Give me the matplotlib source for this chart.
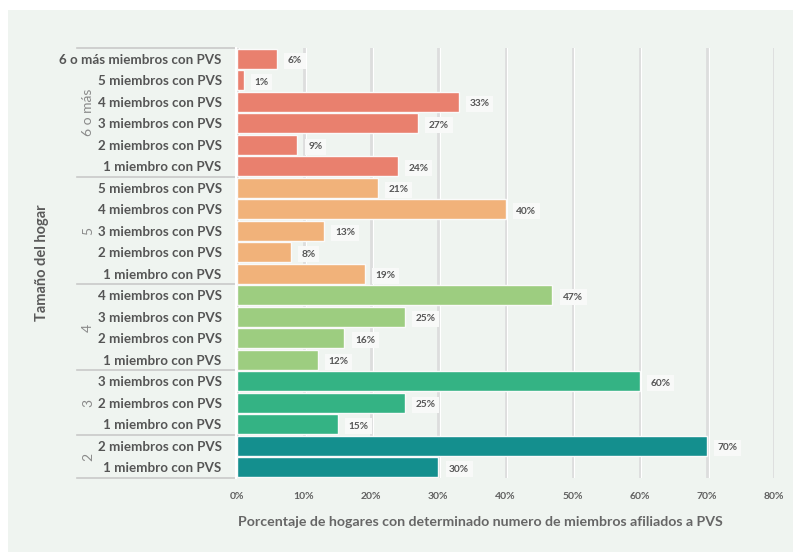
import matplotlib
matplotlib.use("Agg")
import matplotlib.pyplot as plt
from matplotlib.patches import Rectangle
import matplotlib.transforms as mtransforms

plt.rcParams['font.family'] = ['Lato', 'DejaVu Sans']

groups = ["6 o más", "5", "4", "3", "2"]
group_rows = [
    ["6 o más miembros con PVS", "5 miembros con PVS", "4 miembros con PVS",
     "3 miembros con PVS", "2 miembros con PVS", "1 miembro con PVS"],
    ["5 miembros con PVS", "4 miembros con PVS", "3 miembros con PVS",
     "2 miembros con PVS", "1 miembro con PVS"],
    ["4 miembros con PVS", "3 miembros con PVS", "2 miembros con PVS",
     "1 miembro con PVS"],
    ["3 miembros con PVS", "2 miembros con PVS", "1 miembro con PVS"],
    ["2 miembros con PVS", "1 miembro con PVS"],
]
group_values = [
    [6, 1, 33, 27, 9, 24],
    [21, 40, 13, 8, 19],
    [47, 25, 16, 12],
    [60, 25, 15],
    [70, 30],
]
group_colors = ["#e9806e", "#f1b27a", "#9dcd80", "#34b384", "#148f8e"]
xticks = [0, 10, 20, 30, 40, 50, 60, 70, 80]
xticklabels = ["0%", "10%", "20%", "30%", "40%", "50%", "60%", "70%", "80%"]

W, H = 793, 552
fig = plt.figure(figsize=(W / 100, H / 100), dpi=100, facecolor="white")
fig.patches.append(Rectangle((8 / W, 0), 1, 1 - 10 / H, transform=fig.transFigure,
                             facecolor="#eff4f0", edgecolor="none", zorder=-10))

left, right, top, bottom = 237, 774, 48, 478
ax = fig.add_axes([left / W, 1 - bottom / H, (right - left) / W, (bottom - top) / H])
ax.patch.set_alpha(0)

labels, values, colors = [], [], []
bounds = [0]
for g, rows, vals, c in zip(groups, group_rows, group_values, group_colors):
    labels += rows
    values += vals
    colors += [c] * len(vals)
    bounds.append(bounds[-1] + len(vals))

n = len(values)
ypos = list(range(n))
ax.barh(ypos, values, height=0.94, color=colors, edgecolor="#fafafa", linewidth=1.0, zorder=3)

for y, v in zip(ypos, values):
    ax.text(v + 1.6, y + 0.1, f"{v}%", ha="left", va="center", fontsize=7.3,
            fontweight="bold", color="#555555", zorder=4,
            bbox=dict(boxstyle="square,pad=0.35", facecolor="#f8f9f8", edgecolor="none"))

ax.set_xlim(0, 80)
ax.set_ylim(n - 0.5, -0.5)
for x in xticks:
    ax.axvline(x, color="#dddddd", linewidth=2.0, zorder=1)
    ax.axvline(x + 0.25, color="#ffffff", linewidth=0.8, zorder=1)

ax.set_xticks(xticks)
ax.set_xticklabels(xticklabels, fontsize=7.5, fontweight="bold", color="#606060")
ax.tick_params(axis="x", length=0, pad=10)
ax.set_yticks(ypos)
ax.set_yticklabels(labels, fontsize=9.6, fontweight="bold", color="#555555")
ax.tick_params(axis="y", length=0, pad=11)
for s in ax.spines.values():
    s.set_visible(False)

trans = mtransforms.blended_transform_factory(ax.transAxes, ax.transData)
xl = (77 - left) / (right - left)
for b in bounds:
    ax.plot([xl, -0.003], [b - 0.5, b - 0.5], transform=trans, color="#c9c9c9",
            linewidth=1.2, clip_on=False)
gx = (88 - left) / (right - left)
for g, b0, b1 in zip(groups, bounds[:-1], bounds[1:]):
    ax.text(gx, (b0 + b1 - 1) / 2, g, transform=trans, rotation=90, ha="center",
            va="center", fontsize=10, color="#8a8a8a")
ax.plot([-0.002, -0.002], [-0.5, n - 0.5], transform=trans, color="white",
        linewidth=1.5, clip_on=False)

fig.text(42 / W, 1 - 263 / H, "Tamaño del hogar", rotation=90, ha="center", va="center",
         fontsize=10.5, fontweight="bold", color="#5a5a5a")
fig.text(480 / W, 1 - 522 / H,
         "Porcentaje de hogares con determinado numero de miembros afiliados a PVS",
         ha="center", va="center", fontsize=10.2, fontweight="bold", color="#666666")

fig.savefig("out.png", dpi=100, facecolor=fig.get_facecolor())
